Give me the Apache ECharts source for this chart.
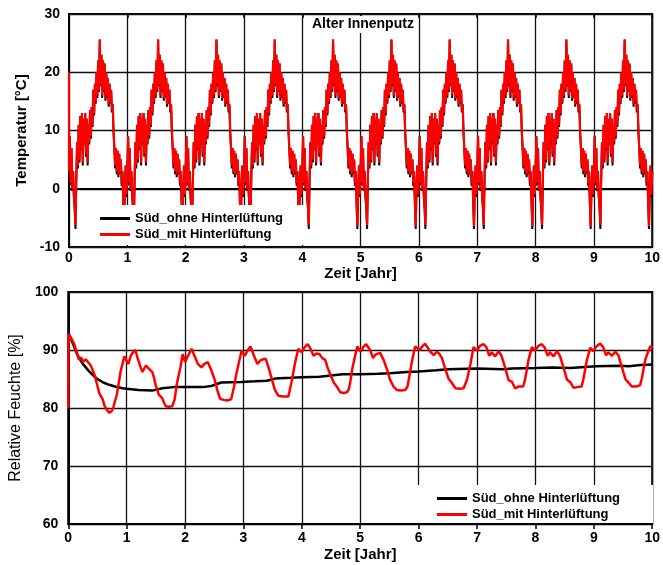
<!DOCTYPE html>
<html lang="de">
<head>
    <meta charset="UTF-8">
    <title>Alter Innenputz</title>
    <script type="text/javascript" src="https://cdn.jsdelivr.net/npm/echarts@6/dist/echarts.min.js"></script>
    <style>
        html, body { margin: 0; padding: 0; background: #fff; }
        #main { width: 663px; height: 565px; }
    </style>
</head>
<body>
<div id="main"></div>
<script type="text/javascript">
    var seriesNames = ['Süd_ohne Hinterlüftung', 'Süd_mit Hinterlüftung'];
    var years = 10;

    // Temperatur: Jahresgang (72 Werte je Jahr), jedes Jahr fast gleich
    var tempStart = 20;
    var tempMit = [3, 9, 1, 7, 0, 3, -1, -3, -6.2, 2, 8, 4, 11, 5, 12.5, 7, 13, 4.5, 12, 8,
        13, 6, 12, 4.5, 11, 8, 13.5, 9, 14, 11, 17, 13, 18, 15, 20, 16, 22, 17, 25.6, 18,
        23, 16, 22, 17, 21.5, 15.5, 20, 16, 19, 14.5, 18, 15, 17, 13.5, 14.5, 10, 7, 4, 7, 3,
        6.5, 2.5, 6, 3, 5, 1, 3, -2, -6.4, 0, 4, -1];
    var tempOhne = [2.7, 9, 0.6, 7, -0.4, 3, -1.4, -3.4, -6.9, 1.6, 8, 3.5, 11, 4.5, 12.5, 6.6, 13, 4, 12, 7.6,
        13, 5.5, 12, 4, 11, 7.6, 13.5, 8.6, 14, 10.6, 17, 12.6, 18, 14.6, 20, 15.6, 22, 16.6, 25.6, 17.6,
        23, 15.6, 22, 16.6, 21.5, 15.1, 20, 15.6, 19, 14.1, 18, 14.6, 17, 13.1, 14.5, 9.6, 7, 3.5, 7, 2.5,
        6.5, 2, 6, 2.5, 5, 0.5, 3, -2.4, -6.9, -0.4, 4, -1.4];

    // Relative Feuchte [Jahr, %]
    var feuchteOhne = [[0, 93], [0.05, 91.8], [0.1, 90.6], [0.15, 89.3], [0.2, 88.4], [0.25, 87.6], [0.3, 87], [0.35, 86.4],
        [0.4, 85.9], [0.45, 85.4], [0.5, 85.0], [0.6, 84.4], [0.7, 84.0], [0.8, 83.7], [0.93, 83.4], [1.0, 83.3],
        [1.2, 83.1], [1.44, 83.0], [1.61, 83.4], [1.8, 83.6], [2.06, 83.6], [2.3, 83.6], [2.45, 83.8], [2.62, 84.4],
        [2.96, 84.5], [3.2, 84.6], [3.4, 84.7], [3.55, 85.1], [3.8, 85.2], [4.0, 85.3], [4.3, 85.4], [4.5, 85.6],
        [4.7, 85.8], [5.0, 85.8], [5.3, 85.9], [5.5, 86.0], [5.8, 86.2], [6.0, 86.3], [6.3, 86.5], [6.5, 86.7],
        [7.0, 86.8], [7.45, 86.7], [7.6, 86.8], [8.0, 86.9], [8.3, 87.0], [8.6, 86.9], [9.04, 87.2], [9.44, 87.3],
        [9.6, 87.2], [9.8, 87.4], [10, 87.5]];
    var feuchteMit = [[0, 80], [0.005, 92.8], [0.04, 92.2], [0.08, 91.5], [0.11, 90.8], [0.14, 89.8], [0.18, 88.4], [0.22, 88.7],
        [0.26, 88.0], [0.3, 88.4], [0.34, 87.9], [0.38, 87.4], [0.42, 86.5], [0.45, 85.7], [0.48, 84.6], [0.5, 83.8],
        [0.53, 82.6], [0.56, 82.0], [0.59, 81.5], [0.62, 80.4], [0.66, 79.7], [0.7, 79.2], [0.74, 79.4], [0.77, 80.0],
        [0.8, 81.2], [0.83, 82.2], [0.86, 84.0], [0.9, 86.5], [0.93, 87.6], [0.96, 88.9], [0.99, 88.8],
        [1.03, 87.6], [1.07, 89.0], [1.11, 89.6], [1.15, 90.0], [1.19, 88.5], [1.24, 87.0], [1.27, 86.2], [1.3, 86.8],
        [1.33, 87.3], [1.38, 86.8], [1.44, 86.2], [1.47, 85.2], [1.49, 84.2], [1.52, 83.2], [1.55, 82.3], [1.61, 81.7],
        [1.64, 80.9], [1.67, 80.3], [1.72, 80.2], [1.78, 80.3], [1.82, 81.4], [1.86, 84.2], [1.92, 87.0], [1.96, 89.3],
        [2.0, 87.9], [2.04, 88.8], [2.08, 89.6], [2.11, 90.2], [2.17, 88.8], [2.22, 87.6], [2.28, 87.0], [2.33, 87.6],
        [2.39, 87.9], [2.45, 86.5], [2.51, 84.8], [2.56, 82.8], [2.6, 81.6], [2.66, 81.4], [2.72, 81.3], [2.79, 81.5],
        [2.84, 83.7], [2.88, 86.0], [2.93, 88.2], [2.97, 89.9],
        [3.02, 89.0], [3.07, 89.9], [3.12, 90.6], [3.18, 89.0], [3.24, 87.6], [3.29, 88.2], [3.34, 88.4], [3.38, 88.5],
        [3.43, 87.0], [3.49, 84.8], [3.54, 83.1], [3.6, 82.1], [3.68, 82.0], [3.77, 82.0], [3.83, 84.8], [3.88, 87.6], [3.94, 90.2],
        [4.0, 89.6], [4.05, 90.5], [4.1, 91.0], [4.15, 90.2], [4.2, 89.0], [4.25, 89.4], [4.3, 89.3], [4.35, 88.6],
        [4.4, 88.3], [4.44, 87.0], [4.49, 85.7], [4.55, 84.3], [4.6, 83.7], [4.66, 82.7], [4.72, 82.6], [4.77, 82.7],
        [4.8, 83.1], [4.83, 84.5], [4.86, 86.6], [4.91, 88.9], [4.95, 90.6],
        [5.01, 89.7], [5.05, 90.5], [5.1, 91.0], [5.17, 90.0], [5.22, 88.6], [5.26, 89.2], [5.29, 89.4], [5.34, 89.5],
        [5.4, 88.3], [5.46, 86.6], [5.51, 84.9], [5.57, 83.7], [5.63, 83.1], [5.7, 83.0], [5.77, 83.1], [5.81, 83.7],
        [5.85, 86.0], [5.89, 88.3], [5.94, 90.6],
        [6.02, 90.0], [6.06, 90.6], [6.11, 91.1], [6.2, 89.7], [6.26, 89.1], [6.31, 89.7], [6.35, 89.4], [6.4, 88.6],
        [6.46, 86.6], [6.51, 85.1], [6.57, 84.3], [6.63, 83.4], [6.7, 83.3], [6.77, 83.4], [6.83, 84.9], [6.89, 87.7], [6.94, 90.5],
        [7.0, 89.9], [7.05, 90.7], [7.11, 91.0], [7.16, 90.5], [7.21, 89.0], [7.25, 89.6], [7.31, 88.9], [7.37, 89.8],
        [7.42, 89.0], [7.48, 87.0], [7.54, 84.8], [7.6, 84.5], [7.65, 83.4], [7.71, 83.7], [7.79, 83.7], [7.82, 84.8],
        [7.88, 88.2], [7.94, 90.5],
        [7.99, 89.9], [8.05, 90.7], [8.11, 91.0], [8.16, 90.4], [8.21, 89.0], [8.25, 89.6], [8.31, 88.9], [8.37, 89.8],
        [8.42, 89.0], [8.48, 87.0], [8.54, 84.9], [8.6, 84.4], [8.65, 83.5], [8.72, 83.6], [8.79, 83.7], [8.82, 84.9],
        [8.88, 88.2], [8.94, 90.4],
        [8.99, 89.8], [9.05, 90.7], [9.11, 91.1], [9.16, 90.5], [9.21, 89.1], [9.25, 89.6], [9.31, 89.0], [9.37, 89.7],
        [9.42, 89.1], [9.48, 87.1], [9.54, 85.0], [9.6, 84.3], [9.65, 83.7], [9.72, 83.7], [9.79, 83.9], [9.82, 85.0],
        [9.88, 88.3], [9.94, 90.0], [9.97, 90.7], [10.0, 90.3]];

    var fontFam = '"Liberation Sans", Arial, sans-serif';

    // Jahresgang ueber alle Jahre aneinanderhaengen
    function buildTemp(profile) {
        var pts = [[0, tempStart]];
        var n = profile.length;
        for (var y = 0; y < years; y++) {
            for (var i = 0; i < n; i++) {
                pts.push([y + i / n, profile[i]]);
            }
        }
        pts.push([years, profile[0]]);
        return pts;
    }

    function xAxisMain(grid, gap, margin, tickOut) {
        return {
            gridIndex: grid, type: 'value', min: 0, max: 10, interval: 1,
            axisLine: {show: true, lineStyle: {color: '#000', width: 2}},
            axisTick: {show: tickOut, inside: false, length: 5, lineStyle: {color: '#000', width: 1.5}},
            axisLabel: {fontSize: 14, fontWeight: 'bold', color: '#000', margin: margin, fontFamily: fontFam},
            splitLine: {show: true, lineStyle: {color: '#111', width: 1.3}},
            name: 'Zeit [Jahr]', nameLocation: 'middle', nameGap: gap,
            nameTextStyle: {fontSize: 15, fontWeight: 'bold', color: '#000', fontFamily: fontFam}
        };
    }

    function legendBox(left, top, pad) {
        return {
            data: seriesNames, orient: 'vertical', left: left, top: top, padding: pad,
            backgroundColor: '#fff', icon: 'rect', itemWidth: 30, itemHeight: 3, itemGap: 1,
            selectedMode: false,
            textStyle: {fontSize: 13, fontWeight: 'bold', color: '#000', lineHeight: 15, fontFamily: fontFam}
        };
    }

    var myChart = echarts.init(document.getElementById('main'));
    var option = {
        animation: false,
        backgroundColor: '#fff',
        title: {
            text: 'Alter Innenputz', left: 308, top: 16, padding: [1, 4, 2, 4], backgroundColor: '#fff',
            textStyle: {fontSize: 14, fontWeight: 'bold', color: '#000', fontFamily: fontFam}
        },
        legend: [
            legendBox(90, 205, [6, 23, 3, 10]),
            legendBox(405, 485, [6, 33, 1, 32])
        ],
        grid: [
            {left: 69, top: 14, width: 585, height: 233, show: true, borderColor: '#000', borderWidth: 2},
            {left: 67, top: 292, width: 586, height: 232, show: true, borderColor: '#000', borderWidth: 2}
        ],
        xAxis: [
            xAxisMain(0, 18, 4, false),
            {
                gridIndex: 0, type: 'value', min: 0, max: 10, interval: 1, z: 5,
                axisLine: {show: false},
                axisTick: {show: true, inside: true, length: 4, lineStyle: {color: '#000', width: 1.5}},
                axisLabel: {show: false}, splitLine: {show: false}
            },
            xAxisMain(1, 23, 7, true)
        ],
        yAxis: [
            {
                gridIndex: 0, type: 'value', min: -10, max: 30, interval: 10,
                axisLine: {show: true, lineStyle: {color: '#000', width: 2}},
                axisTick: {show: false},
                axisLabel: {fontSize: 14, fontWeight: 'bold', color: '#000', margin: 9, fontFamily: fontFam},
                splitLine: {show: true, lineStyle: {color: '#111', width: 1.3}},
                name: 'Temperatur [°C]', nameLocation: 'middle', nameGap: 39, nameRotate: 90,
                nameTextStyle: {fontSize: 15, fontWeight: 'bold', color: '#000', fontFamily: fontFam}
            },
            {
                gridIndex: 1, type: 'value', min: 60, max: 100, interval: 10,
                axisLine: {show: true, lineStyle: {color: '#000', width: 2}},
                axisTick: {show: false},
                axisLabel: {fontSize: 14, fontWeight: 'bold', color: '#000', margin: 10, fontFamily: fontFam},
                splitLine: {show: true, lineStyle: {color: '#111', width: 1.3}},
                name: 'Relative Feuchte [%]', nameLocation: 'middle', nameGap: 41, nameRotate: 90,
                nameTextStyle: {fontSize: 16, color: '#000', fontFamily: fontFam}
            }
        ],
        series: [
            {
                name: seriesNames[0], type: 'line', xAxisIndex: 0, yAxisIndex: 0, data: buildTemp(tempOhne),
                symbol: 'none', itemStyle: {color: '#000'}, lineStyle: {color: '#000', width: 2}
            },
            {
                name: seriesNames[1], type: 'line', xAxisIndex: 0, yAxisIndex: 0, data: buildTemp(tempMit),
                symbol: 'none', itemStyle: {color: '#ff0000'}, lineStyle: {color: '#ff0000', width: 2.2}
            },
            {
                name: seriesNames[0], type: 'line', xAxisIndex: 2, yAxisIndex: 1, data: feuchteOhne,
                symbol: 'none', itemStyle: {color: '#000'}, lineStyle: {color: '#000', width: 2.5}
            },
            {
                name: seriesNames[1], type: 'line', xAxisIndex: 2, yAxisIndex: 1, data: feuchteMit,
                symbol: 'none', itemStyle: {color: '#ff0000'}, lineStyle: {color: '#ff0000', width: 2.5}
            }
        ]
    };
    myChart.setOption(option);
</script>
</body>
</html>
